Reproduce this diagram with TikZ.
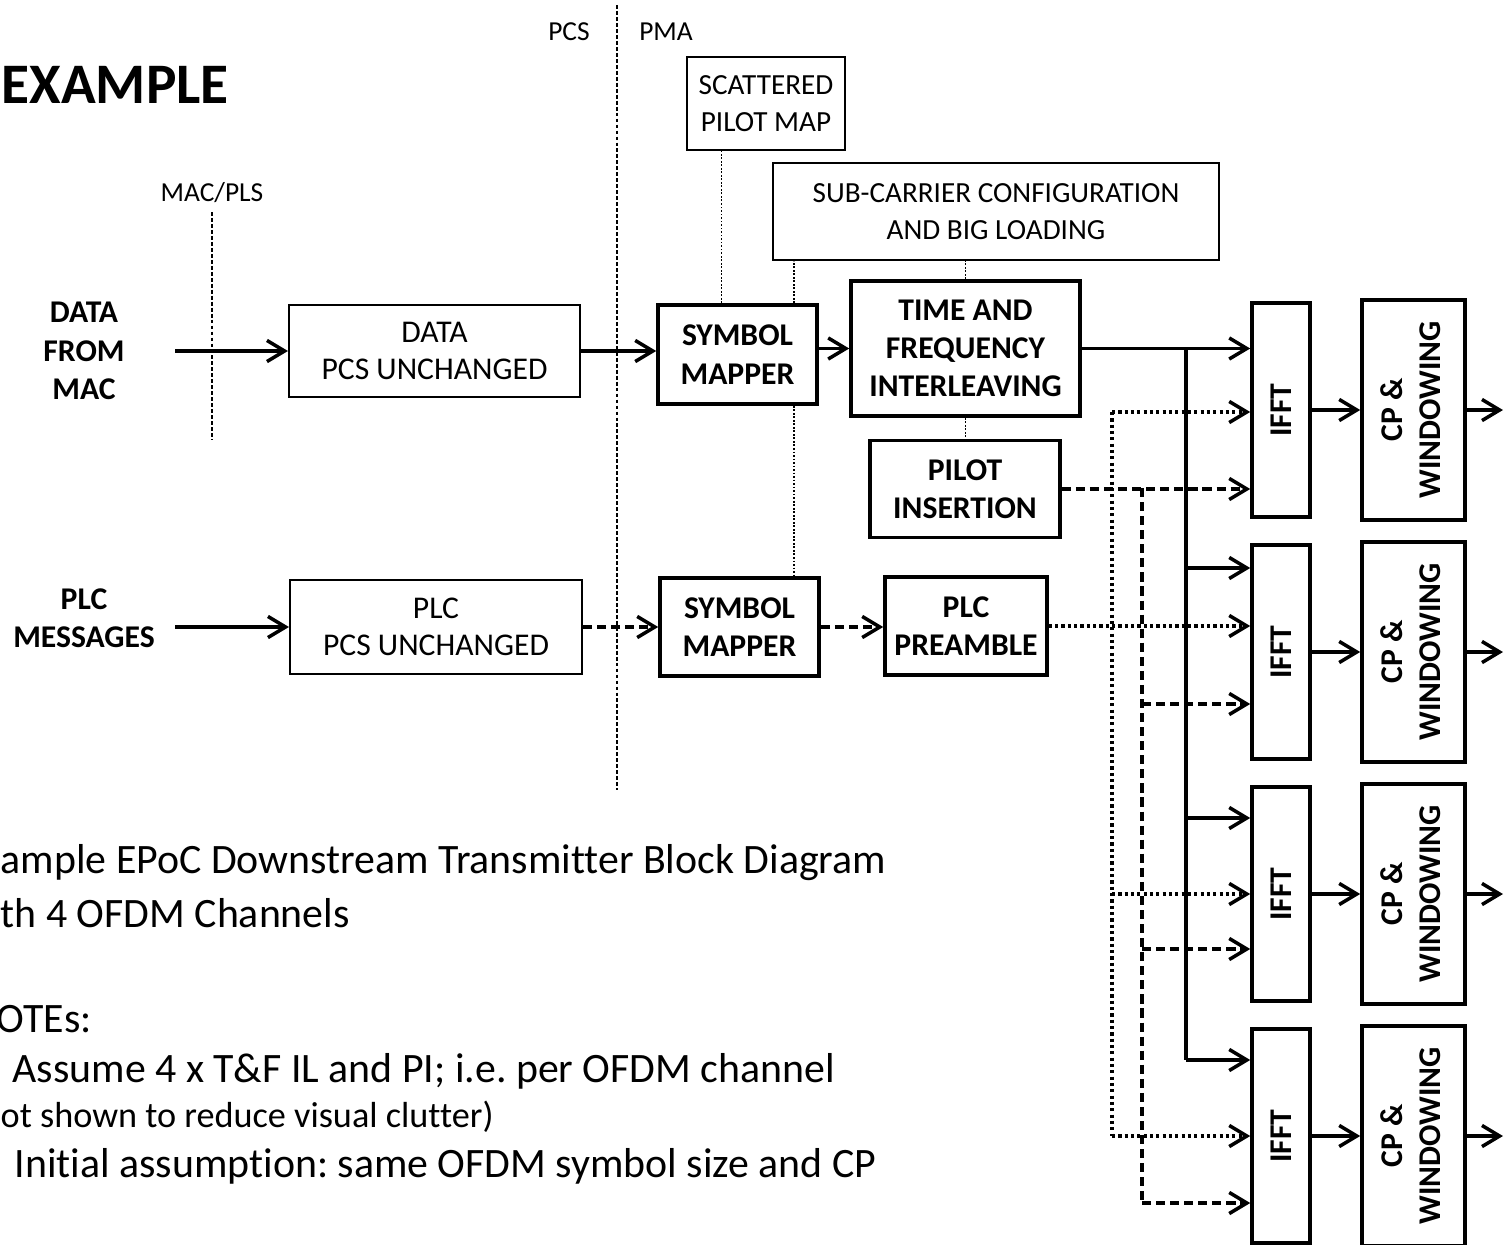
\documentclass[tikz,border=0pt]{standalone}
\usepackage{graphicx}
\usepackage{fontspec}
\setmainfont{Carlito}[Ligatures=NoCommon]
\usepackage{tikz}
\usetikzlibrary{arrows.meta,positioning,calc}
\frenchspacing

\begin{document}
\begin{tikzpicture}[x=0.01cm,y=-0.01cm,
    block/.style={rectangle,draw,line width=0.55pt,fill=white,inner sep=0pt,align=center,font=\fontsize{9}{10.6}\selectfont},
    hblock/.style={block,line width=1pt,font=\bfseries\fontsize{9}{10.9}\selectfont},
    cfgblock/.style={block,font=\fontsize{8.3}{10.6}\selectfont},
    srctext/.style={inner sep=0pt,align=center,font=\bfseries\fontsize{9}{10.9}\selectfont},
    tag/.style={inner sep=0pt,font=\fontsize{7.8}{9}\selectfont},
    note/.style={inner sep=0pt,anchor=base west,font=\fontsize{11.9}{14}\selectfont},
    arrow/.style={-{Straight Barb[length=5pt,width=6pt]},line width=1pt},
    dasharrow/.style={arrow,dash pattern=on 2.6pt off 1.4pt},
    dotarrow/.style={arrow,dash pattern=on 0.9pt off 0.9pt},
    busline/.style={line width=1pt},
    dashline/.style={line width=1pt,dash pattern=on 2.6pt off 1.4pt},
    dotline/.style={line width=1pt,dash pattern=on 0.9pt off 0.9pt},
    link/.style={line width=0.5pt,dash pattern=on 0.5pt off 0.5pt},
    divider/.style={line width=0.45pt,dash pattern=on 1.1pt off 0.6pt}
]
\useasboundingbox (0,0) rectangle (1505,1245);

% title and notes
\node[inner sep=0pt,anchor=base west,font=\bfseries\fontsize{16.3}{18}\selectfont] (title) at (1,103) {EXAMPLE};
\node[note] (n1) at (0,873) {ample EPoC Downstream Transmitter Block Diagram};
\node[note] (n2) at (0,927) {th 4 OFDM Channels};
\node[note] (n3) at (-4,1032) {OTEs:};
\node[note] (n4) at (12,1082) {Assume 4 x T\&F IL and PI; i.e. per OFDM channel};
\node[note,font=\fontsize{10.3}{12}\selectfont] (n5) at (0,1127) {ot shown to reduce visual clutter)};
\node[note] (n6) at (14,1177) {Initial assumption: same OFDM symbol size and CP};

% layer boundaries
\node[tag] (maclbl) at (212,193) {MAC/PLS};
\node[tag] (pcs) at (569,32) {PCS};
\node[tag] (pma) at (666,32) {PMA};
\coordinate (mactop) at (212,212);
\coordinate (macbot) at (212,440);
\coordinate (pcstop) at (617,5);
\coordinate (pcsbot) at (617,790);
\draw[divider] (mactop) -- (macbot);
\draw[divider] (pcstop) -- (pcsbot);

% inputs
\node[srctext] (mac) at (84,351) {DATA\\FROM\\MAC};
\node[srctext] (plcmsg) at (84,618) {PLC\\MESSAGES};
\coordinate (macout) at (175,351);
\coordinate (plcout) at (175,627);

% blocks
\node[block,minimum width=2.91cm,minimum height=0.92cm] (data) at (434.5,351) {DATA\\PCS UNCHANGED};
\node[block,minimum width=2.92cm,minimum height=0.94cm] (plc) at (436,627) {PLC\\PCS UNCHANGED};
\node[hblock,minimum width=1.59cm,minimum height=0.99cm] (map1) at (737.5,354.5) {SYMBOL\\MAPPER};
\node[hblock,minimum width=1.59cm,minimum height=0.98cm] (map2) at (739.5,627) {SYMBOL\\MAPPER};
\node[hblock,minimum width=2.29cm,minimum height=1.35cm] (tf) at (965.5,348.5) {TIME AND\\FREQUENCY\\INTERLEAVING};
\node[hblock,minimum width=1.9cm,minimum height=0.97cm] (pilot) at (965,489) {PILOT\\INSERTION};
\node[hblock,minimum width=1.62cm,minimum height=0.98cm] (pre) at (966,626) {PLC\\PREAMBLE};
\node[cfgblock,minimum width=1.58cm,minimum height=0.93cm] (scat) at (766,103.5) {SCATTERED\\PILOT MAP};
\node[cfgblock,minimum width=4.46cm,minimum height=0.97cm] (sub) at (996,211.5) {SUB-CARRIER CONFIGURATION\\AND BIG LOADING};

% per channel IFFT and CP
\coordinate (out) at (1503,0);
\foreach \i/\sy/\dy/\ay in {1/347/412/488,2/568/628/704,3/818/894/949,4/1060/1136/1203}{
  \node[hblock,minimum width=0.58cm,minimum height=2.14cm] (fft\i) at (1281,{410+242*(\i-1)}) {\rotatebox{90}{IFFT}};
  \node[hblock,minimum width=1.03cm,minimum height=2.2cm] (cp\i) at (1413.5,{410+242*(\i-1)})
    {\rotatebox{90}{\begin{tabular}{@{}c@{}}CP \&\\WINDOWING\end{tabular}}};
  \coordinate (s\i) at (1186,\sy);
  \coordinate (d\i) at (1112,\dy);
  \coordinate (a\i) at (1142,\ay);
  \draw[arrow] (fft\i.east) -- (cp\i.west);
  \draw[arrow] (cp\i.east) -- (cp\i.east -| out);
}

% configuration links
\coordinate (l1) at ($(map1.north)+(-16,0)$);
\coordinate (l2) at ($(map1.north)+(56.5,0)$);
\draw[link] (l1) -- (l1 |- scat.south);
\draw[link] (l2) -- (l2 |- sub.south);
\draw[link] (l2 |- map1.south) -- (l2 |- map2.north);
\draw[link] (tf.north) -- (tf.north |- sub.south);
\draw[link] (tf.south) -- (tf.south |- pilot.north);

% data path
\draw[arrow] (macout) -- (data.west);
\draw[arrow] (data.east) -- (data.east -| map1.west);
\draw[arrow] (map1.east |- tf.west) -- (tf.west);
\draw[arrow] (tf.east) -- (tf.east -| fft1.west);
\draw[busline] (s1) -- (s4);
\foreach \i in {2,3,4}
  \draw[arrow] (s\i) -- (s\i -| fft\i.west);

% plc path
\draw[arrow] (plcout) -- (plc.west);
\draw[dasharrow] (plc.east) -- (plc.east -| map2.west);
\draw[dasharrow] (map2.east) -- (map2.east -| pre.west);
\draw[dotarrow] (pre.east) -- (pre.east -| fft2.west);
\draw[dotline] (d1) -- (d4);
\foreach \i in {1,3,4}
  \draw[dotarrow] (d\i) -- (d\i -| fft\i.west);

% pilots
\draw[dasharrow] (pilot.east) -- (pilot.east -| fft1.west);
\draw[dashline] (a1) -- (a4);
\foreach \i in {2,3,4}
  \draw[dasharrow] (a\i) -- (a\i -| fft\i.west);
\end{tikzpicture}
\end{document}
